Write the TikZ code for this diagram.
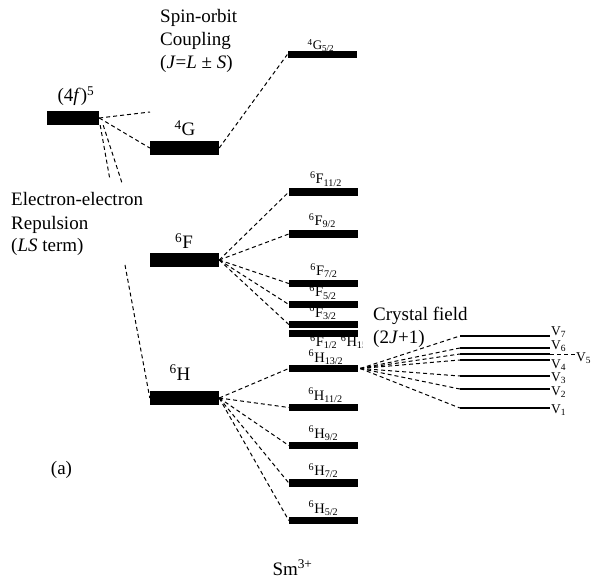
\documentclass[tikz,border=0pt]{standalone}
\usepackage{fontspec}
\setmainfont{Liberation Serif}
\begin{document}
\begin{tikzpicture}[x=1pt,y=-1pt,
  bigbar/.style={rectangle,fill=black,draw=none,minimum width=69pt,minimum height=14pt,inner sep=0pt},
  lvl/.style={rectangle,fill=black,draw=none,minimum width=69pt,minimum height=7.5pt,inner sep=0pt},
  vbar/.style={rectangle,fill=black,draw=none,minimum width=90pt,minimum height=1.6pt,inner sep=0pt},
  conn/.style={dash pattern=on 4pt off 3pt,line width=1pt},
  big/.style={font=\fontsize{19}{23}\selectfont,inner sep=0pt,anchor=base},
  bigl/.style={big,anchor=base west},
  small/.style={font=\fontsize{14.5}{16}\selectfont,inner sep=0pt,anchor=base},
  tiny/.style={font=\fontsize{13}{15}\selectfont,inner sep=0pt,anchor=base},
  vlab/.style={font=\fontsize{13.5}{15}\selectfont,inner sep=0pt,anchor=base west},
  ]
\useasboundingbox (0,0) rectangle (592,580);

% ---- left levels
\node[bigbar,minimum width=52pt] (f5) at (73,118) {};
\node[bigbar] (G) at (184.5,148) {};
\node[bigbar] (F) at (184.5,260) {};
\node[bigbar] (H) at (184.5,398) {};

% ---- J levels
\node[lvl] (G52) at (322,54.5) {};
\node[lvl] (F11) at (323.5,192) {};
\node[lvl] (F9)  at (323.5,234) {};
\node[lvl] (F7)  at (323.5,283.5) {};
\node[lvl] (F5)  at (323.5,304.5) {};
\node[lvl] (F3)  at (323.5,324.5) {};
\node[lvl] (F1)  at (323.5,333.5) {};
\node[lvl] (H13) at (323.5,368.5) {};
\node[lvl] (H11) at (323.5,407.5) {};
\node[lvl] (H9)  at (323.5,445.5) {};
\node[lvl] (H7)  at (323.5,483) {};
\node[lvl] (H5)  at (323.5,520.5) {};

% ---- crystal field levels
\node[vbar] (V7) at (505,336) {};
\node[vbar] (V6) at (505,348) {};
\node[vbar] (V5) at (505,354) {};
\node[vbar] (V4) at (505,360) {};
\node[vbar] (V3) at (505,376) {};
\node[vbar] (V2) at (505,389) {};
\node[vbar] (V1) at (505,408) {};

% ---- free ends
\coordinate (c1) at (150,112);
\coordinate (c2) at (110,180);
\coordinate (c3) at (122,183);
\coordinate (c4) at (125,265);
\coordinate (c5) at (575,354);

% ---- connectors
\draw[conn] (f5.east) -- (c1);
\draw[conn] (f5.east) -- (G.west);
\draw[conn] ([xshift=1pt]f5.south east) -- (c2);
\draw[conn] ([xshift=4pt]f5.south east) -- (c3);
\draw[conn] (c4) -- (H.west);
\draw[conn] (G.east) -- (G52.west);
\foreach \t in {F11,F9,F7,F5,F3} \draw[conn] (F.east) -- (\t.west);
\foreach \t in {H13,H11,H9,H7,H5} \draw[conn] (H.east) -- (\t.west);
\foreach \t in {V7,V6,V5,V4,V3,V2,V1} \draw[conn] ([xshift=2pt]H13.east) -- (\t.west);
\draw[conn] (V5.east) -- (c5);

% ---- big labels
\node[big] (lf5) at (76,102) {(4\textit{f})\textsuperscript{5}};
\node[big] (lG) at (185,136) {\textsuperscript{4}G};
\node[big] (lF) at (184,249) {\textsuperscript{6}F};
\node[big] (lH) at (180,380) {\textsuperscript{6}H};

\node[bigl] (so1) at (160,23) {Spin-orbit};
\node[bigl] (so2) at (160,46) {Coupling};
\node[bigl] (so3) at (160,69) {(\textit{J}=\textit{L} ± \textit{S})};

\node[bigl] (ee1) at (11,206) {Electron-electron};
\node[bigl] (ee2) at (11,230) {Repulsion};
\node[bigl] (ee3) at (11,252) {(\textit{LS} term)};

\node[bigl] (cf1) at (373,320) {Crystal field};
\node[bigl] (cf2) at (373,343) {(2\textit{J}+1)};

\node[big] (la) at (61.5,474.5) {(a)};
\node[big] (lsm) at (292.5,575) {Sm\textsuperscript{3+}};

% ---- J labels
\node[tiny] (lG52) at (321,50) {\textsuperscript{4}G\textsubscript{5/2}};
\node[small] (lF11) at (326,184) {\textsuperscript{6}F\textsubscript{11/2}};
\node[small] (lF9)  at (322.5,225.5) {\textsuperscript{6}F\textsubscript{9/2}};
\node[small] (lF7)  at (324,275.5) {\textsuperscript{6}F\textsubscript{7/2}};
\node[small] (lF5)  at (323,297) {\textsuperscript{6}F\textsubscript{5/2}};
\node[small] (lF3)  at (323,317) {\textsuperscript{6}F\textsubscript{3/2}};
\begin{scope}
\clip (300,336) rectangle (362,352);
\node[small,anchor=base west] (lF1) at (310,346.5) {\textsuperscript{6}F\textsubscript{1/2} \textsuperscript{6}H\textsubscript{15/2}};
\end{scope}
\node[small] (lH13) at (326,362) {\textsuperscript{6}H\textsubscript{13/2}};
\node[small] (lH11) at (325.5,400) {\textsuperscript{6}H\textsubscript{11/2}};
\node[small] (lH9)  at (323.5,438) {\textsuperscript{6}H\textsubscript{9/2}};
\node[small] (lH7)  at (323.5,475.5) {\textsuperscript{6}H\textsubscript{7/2}};
\node[small] (lH5)  at (323.5,513) {\textsuperscript{6}H\textsubscript{5/2}};

% ---- V labels
\node[vlab] (lV7) at (551,335) {V\textsubscript{7}};
\node[vlab] (lV6) at (551,349) {V\textsubscript{6}};
\node[vlab] (lV5) at (576,361) {V\textsubscript{5}};
\node[vlab] (lV4) at (551,368) {V\textsubscript{4}};
\node[vlab] (lV3) at (551,381) {V\textsubscript{3}};
\node[vlab] (lV2) at (551,395) {V\textsubscript{2}};
\node[vlab] (lV1) at (551,413) {V\textsubscript{1}};
\end{tikzpicture}
\end{document}
